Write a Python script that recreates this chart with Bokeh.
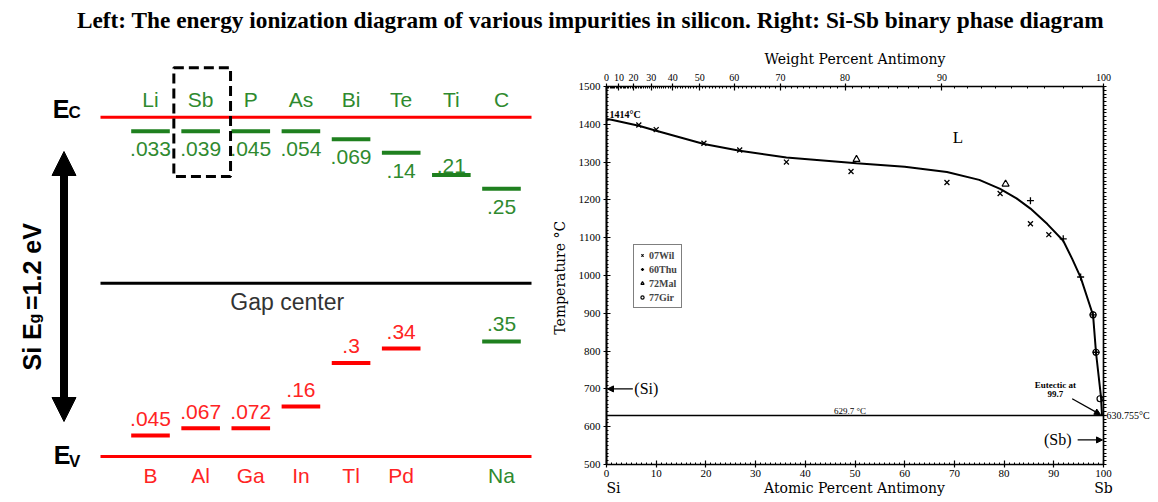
import math
from bokeh.plotting import figure
from bokeh.models import (ColumnDataSource, Range1d, LinearAxis, SingleIntervalTicker,
                          FixedTicker, Arrow, NormalHead, Label, Legend, LegendItem)
from bokeh.layouts import column, row
from bokeh.core.properties import value
from bokeh.embed import file_html
from bokeh.resources import INLINE

TITLE = ("Left: The energy ionization diagram of various impurities in silicon. "
         "Right: Si-Sb binary phase diagram")

# ---------------- data: left panel (energy levels in Si) ----------------
gap_ev = 1.2
gap_center_ev = 0.613          # drawn level of the "Gap center" line
gap_label = ["Si E", "g", "=1.2 eV"]
donor_names = ["Li", "Sb", "P", "As", "Bi", "Te", "Ti", "C"]
donor_energy_labels = [".033", ".039", ".045", ".054", ".069", ".14", ".21", ".25"]
donor_slot = [0, 1, 2, 3, 4, 5, 6, 7]
donor_depth_ev = [0.050, 0.050, 0.050, 0.050, 0.078, 0.126, 0.204, 0.253]   # drawn depth below Ec
donor_label_above = [False, False, False, False, False, False, True, False]
acceptor_names = ["B", "Al", "Ga", "In", "Tl", "Pd"]
acceptor_energy_labels = [".045", ".067", ".072", ".16", ".3", ".34"]
acceptor_slot = [0, 1, 2, 3, 4, 5]
acceptor_height_ev = [0.074, 0.100, 0.100, 0.177, 0.331, 0.382]  # drawn height above Ev
deep_names = ["Na"]
deep_energy_labels = [".35"]
deep_slot = [7]
deep_height_ev = [0.407]
highlight_name = "Sb"

# ---------------- data: right panel (Si-Sb phase diagram) ----------------
liquidus_at = [0, 1.0, 6.5, 10.0, 19.6, 26.8, 36.2, 50.3, 60.0, 68.5, 75.0, 79.2, 82.5,
               85.3, 88.7, 91.9, 93.7, 95.4, 97.9, 98.5, 99.5, 99.7]
liquidus_T = [1414, 1412, 1396, 1383, 1348, 1330, 1312, 1297, 1288, 1274, 1253, 1229, 1204,
              1177, 1136, 1092, 1044, 995, 895, 795, 678, 629.7]
wil_at = [6.5, 10.0, 19.6, 26.8, 36.2, 49.2, 68.5, 79.2, 85.3, 89.0]
wil_T = [1398, 1386, 1350, 1332, 1300, 1275, 1246, 1217, 1137, 1108]
thu_at = [85.3, 91.9, 95.4, 97.9, 98.5]
thu_T = [1198, 1097, 996, 896, 797]
mal_at = [50.3, 80.3]
mal_T = [1307, 1242]
gir_at = [97.9, 98.5, 99.3]
gir_T = [896, 797, 674]
series_labels = ["07Wil", "60Thu", "72Mal", "77Gir"]
si_melt_T = 1414
sb_melt_T = 630.755
eutectic_T = 629.7
eutectic_at = 99.7
si_solvus_T = 700
sb_solvus_T = 565
wt_tick_values = [0, 10, 20, 30, 40, 50, 60, 70, 80, 90, 100]
M_SI, M_SB = 28.086, 121.76

# ---------------- styles ----------------
RED = "#ff0000"
RED_TXT = "#ff2424"
GREEN = "#1f801f"
GREEN_TXT = "#2f8a2f"
SANS = value("Liberation Sans")
SERIF = "Liberation Serif"

# ================= title strip =================
tp = figure(width=1158, height=40, x_range=Range1d(0, 1158), y_range=Range1d(0, 40),
            x_axis_type=None, y_axis_type=None, toolbar_location=None,
            output_backend="svg", min_border=0)
tp.outline_line_color = None
tp.frame_align = False
tp.text(x=[590], y=[21], text=[TITLE], text_align="center", text_baseline="middle",
        text_font=value(SERIF), text_font_style="bold", text_font_size="23.3px",
        text_color="black")

# ================= left panel =================
L_W, L_H = 548, 462
TOP_WY = 40          # window y of the left panel top
EC_WY, EV_WY = 116.7, 456.0
px_per_ev = (EV_WY - EC_WY) / gap_ev
PX = 1.0 / px_per_ev
SLOT0, SLOT_W = 150.0, 50.14


def ey(wy):
    return (EV_WY - wy) / px_per_ev


def ex(wx):
    return (wx - SLOT0) / SLOT_W


lp = figure(width=L_W, height=L_H, x_range=Range1d(ex(0), ex(L_W)),
            y_range=Range1d(ey(TOP_WY + L_H), ey(TOP_WY)),
            x_axis_type=None, y_axis_type=None, toolbar_location=None,
            output_backend="svg", min_border=0)
lp.frame_align = False
lp.outline_line_color = None
lp.grid.visible = False

# band edges and gap center
lp.segment(x0=[ex(100)] * 2, x1=[ex(531)] * 2, y0=[gap_ev, 0], y1=[gap_ev, 0],
           line_color=RED, line_width=3)
lp.segment(x0=[ex(100)], x1=[ex(531)], y0=[gap_center_ev], y1=[gap_center_ev],
           line_color="black", line_width=3)
lp.text(x=[ex(286.7)], y=[gap_center_ev - 19.0 * PX], text=["Gap center"], text_align="center",
        text_baseline="middle", text_font=SANS, text_font_size="23px", text_color="#333333")

HALF = 0.385
# donors
d_lvl = [gap_ev - d for d in donor_depth_ev]
dsrc = ColumnDataSource(dict(
    x=donor_slot, x0=[s - HALF for s in donor_slot], x1=[s + HALF for s in donor_slot],
    y=d_lvl, name=donor_names, lab=donor_energy_labels,
    ny=[gap_ev + 17.4 * PX] * len(donor_names),
    ly=[v + (9.3 * PX if up else -18.0 * PX) for v, up in zip(d_lvl, donor_label_above)]))
lp.segment(x0="x0", x1="x1", y0="y", y1="y", source=dsrc, line_color=GREEN, line_width=4)
lp.text(x="x", y="ny", text="name", source=dsrc, text_align="center", text_baseline="middle",
        text_font=SANS, text_font_size="21px", text_color=GREEN_TXT)
lp.text(x="x", y="ly", text="lab", source=dsrc, text_align="center", text_baseline="middle",
        text_font=SANS, text_font_size="21px", text_color=GREEN_TXT)

# acceptors
asrc = ColumnDataSource(dict(
    x=acceptor_slot, x0=[s - HALF for s in acceptor_slot], x1=[s + HALF for s in acceptor_slot],
    y=acceptor_height_ev, name=acceptor_names, lab=acceptor_energy_labels,
    ny=[-19.0 * PX] * len(acceptor_names),
    ly=[v + 16.5 * PX for v in acceptor_height_ev]))
lp.segment(x0="x0", x1="x1", y0="y", y1="y", source=asrc, line_color=RED, line_width=4)
lp.text(x="x", y="ny", text="name", source=asrc, text_align="center", text_baseline="middle",
        text_font=SANS, text_font_size="21px", text_color=RED_TXT)
lp.text(x="x", y="ly", text="lab", source=asrc, text_align="center", text_baseline="middle",
        text_font=SANS, text_font_size="21px", text_color=RED_TXT)

# deep donor (Na)
nsrc = ColumnDataSource(dict(
    x=deep_slot, x0=[s - HALF for s in deep_slot], x1=[s + HALF for s in deep_slot],
    y=deep_height_ev, name=deep_names, lab=deep_energy_labels,
    ny=[-19.0 * PX] * len(deep_names),
    ly=[v + 17.0 * PX for v in deep_height_ev]))
lp.segment(x0="x0", x1="x1", y0="y", y1="y", source=nsrc, line_color=GREEN, line_width=4)
lp.text(x="x", y="ny", text="name", source=nsrc, text_align="center", text_baseline="middle",
        text_font=SANS, text_font_size="21px", text_color=GREEN_TXT)
lp.text(x="x", y="ly", text="lab", source=nsrc, text_align="center", text_baseline="middle",
        text_font=SANS, text_font_size="21px", text_color=GREEN_TXT)

# dashed highlight box around Sb
hs = donor_slot[donor_names.index(highlight_name)]
lp.quad(left=[hs - 26.8 / SLOT_W], right=[hs + 29.9 / SLOT_W],
        top=[gap_ev + 49.4 * PX], bottom=[gap_ev - 59.3 * PX],
        fill_color=None, line_color="black", line_width=3, line_dash="10 5")

# Ec / Ev labels
lp.text(x=[ex(60.5)], y=[gap_ev + 8.7 * PX], text=["E"], text_align="center",
        text_baseline="middle", text_font=SANS, text_font_style="bold",
        text_font_size="25px", text_color="black")
lp.text(x=[ex(74.2)], y=[gap_ev + 4.7 * PX], text=["C"], text_align="center",
        text_baseline="middle", text_font=SANS, text_font_style="bold",
        text_font_size="17px", text_color="black")
lp.text(x=[ex(61.7)], y=[1.8 * PX], text=["E"], text_align="center",
        text_baseline="middle", text_font=SANS, text_font_style="bold",
        text_font_size="25px", text_color="black")
lp.text(x=[ex(74.2)], y=[-4.8 * PX], text=["V"], text_align="center",
        text_baseline="middle", text_font=SANS, text_font_style="bold",
        text_font_size="17px", text_color="black")

# double arrow for the gap
lp.add_layout(Arrow(x_start=ex(63.5), y_start=ey(421), x_end=ex(63.5), y_end=ey(151),
                    line_width=8, line_color="black",
                    start=NormalHead(size=24, fill_color="black", line_color="black"),
                    end=NormalHead(size=24, fill_color="black", line_color="black")))
# rotated gap label
lp.text(x=[ex(31.7)], y=[ey(370)], text=[gap_label[0]], angle=math.pi / 2,
        text_align="left", text_baseline="alphabetic", text_font=SANS,
        text_font_style="bold", text_font_size="25px", text_color="black")
lp.text(x=[ex(34.2)], y=[ey(323)], text=[gap_label[1]], angle=math.pi / 2,
        text_align="left", text_baseline="alphabetic", text_font=SANS,
        text_font_style="bold", text_font_size="16px", text_color="black")
lp.text(x=[ex(31.7)], y=[ey(309.5)], text=[gap_label[2]], angle=math.pi / 2,
        text_align="left", text_baseline="alphabetic", text_font=SANS,
        text_font_style="bold", text_font_size="25px", text_color="black")

# ================= right panel =================
R_W, R_H = 610, 462
rp = figure(width=R_W, height=R_H, x_range=Range1d(0, 100), y_range=Range1d(500, 1500),
            toolbar_location=None, output_backend="svg",
            min_border_left=55, min_border_right=55, min_border_top=46, min_border_bottom=38)
rp.frame_align = False
rp.grid.visible = False
rp.outline_line_color = "black"
rp.outline_line_width = 1.2


def style_axis(ax):
    ax.axis_line_width = 1.5
    ax.axis_line_color = "black"
    ax.major_tick_line_width = 1.2
    ax.minor_tick_line_width = 1
    ax.major_tick_in = 4
    ax.major_tick_out = 3
    ax.minor_tick_in = 2
    ax.minor_tick_out = 0
    ax.major_label_standoff = 3
    ax.major_label_text_font = SERIF
    ax.major_label_text_font_size = "11px"
    ax.major_label_text_color = "black"
    ax.axis_label_text_font = "DejaVu Serif"
    ax.axis_label_text_font_size = "14px"
    ax.axis_label_text_font_style = "normal"
    ax.axis_label_text_color = "black"


bx = rp.xaxis[0]
bx.ticker = SingleIntervalTicker(interval=10, num_minor_ticks=10)
style_axis(bx)
bx.major_label_standoff = 2

# second row under the bottom axis: element names and axis title
bottom_ticks = [1.4, 49.9, 100.0]
bottom_texts = ["Si", "Atomic Percent Antimony", "Sb"]
bx2 = LinearAxis(ticker=FixedTicker(ticks=bottom_ticks, minor_ticks=[]),
                 major_label_overrides=dict(zip(bottom_ticks, bottom_texts)))
bx2.axis_line_color = None
bx2.major_tick_line_color = None
bx2.minor_tick_line_color = None
bx2.major_tick_in = 0
bx2.major_tick_out = 0
bx2.major_label_standoff = 0
bx2.major_label_text_font = "DejaVu Serif"
bx2.major_label_text_font_size = "14px"
bx2.major_label_text_color = "black"
rp.add_layout(bx2, "below")

ly = rp.yaxis[0]
ly.ticker = SingleIntervalTicker(interval=100, num_minor_ticks=10)
ly.axis_label = "Temperature  \u00b0C"
style_axis(ly)
ly.axis_line_width = 2
ly.axis_label_standoff = 8


def wt_to_at(w):
    if w <= 0:
        return 0.0
    if w >= 100:
        return 100.0
    a = w / M_SB
    b = (100 - w) / M_SI
    return round(100 * a / (a + b), 4)


top_major = [wt_to_at(w) for w in wt_tick_values]
top_minor = [wt_to_at(w) for w in range(0, 101) if w % 10]
tx = LinearAxis(ticker=FixedTicker(ticks=top_major, minor_ticks=top_minor),
                major_label_overrides={t: str(w) for t, w in zip(top_major, wt_tick_values)},
                axis_label="Weight Percent Antimony")
style_axis(tx)
tx.major_label_text_font_size = "10px"
tx.axis_label_standoff = 4
rp.add_layout(tx, "above")

# right axis: minor ticks only, plus the Sb melting point label
rx = LinearAxis(ticker=FixedTicker(ticks=[sb_melt_T],
                                   minor_ticks=[float(t) for t in range(500, 1501, 10)]),
                major_label_overrides={sb_melt_T: f"{sb_melt_T}\u00b0C"})
style_axis(rx)
rx.major_tick_in = 0
rx.major_tick_out = 3
rx.minor_tick_out = 3
rx.minor_tick_in = 0
rx.major_label_standoff = 0
rx.major_label_text_font_size = "10px"
rp.add_layout(rx, "right")

# liquidus and eutectic line
rp.line(liquidus_at, liquidus_T, line_color="black", line_width=2)
rp.segment(x0=[0], x1=[100], y0=[eutectic_T], y1=[eutectic_T], line_color="black",
           line_width=1.5)

# data markers
r_wil = rp.scatter(wil_at, wil_T, marker="x", size=7, line_color="black", line_width=1.3)
r_thu = rp.scatter(thu_at, thu_T, marker="cross", size=7, line_color="black", line_width=1.3)
r_mal = rp.scatter(mal_at, mal_T, marker="triangle", size=7, fill_color=None,
                   line_color="black", line_width=1.2)
r_gir = rp.scatter(gir_at, gir_T, marker="circle", size=6, fill_color=None,
                   line_color="black", line_width=1.2)

legend = Legend(items=[LegendItem(label=series_labels[0], renderers=[r_wil]),
                       LegendItem(label=series_labels[1], renderers=[r_thu]),
                       LegendItem(label=series_labels[2], renderers=[r_mal]),
                       LegendItem(label=series_labels[3], renderers=[r_gir])],
                location=(27, 156), border_line_color="black", border_line_width=1.5,
                label_text_font=SERIF, label_text_font_style="bold",
                label_text_font_size="10px", glyph_width=8, glyph_height=12,
                label_height=12, label_standoff=3, spacing=2, padding=4, margin=0,
                background_fill_alpha=1)
rp.add_layout(legend)


def lab(x, y, text, size="9px", bold=False, align="left", font=SERIF):
    rp.add_layout(Label(x=x, y=y, text=text, text_font=font, text_font_size=size,
                        text_font_style="bold" if bold else "normal", text_align=align,
                        text_baseline="middle", text_color="black"))


lab(0.6, si_melt_T + 11, f"{si_melt_T}\u00b0C", size="10px", bold=True)
lab(70.7, 1364, "L", size="17px", align="center")
lab(49.0, eutectic_T + 12, f"{eutectic_T} \u00b0C", size="9px", align="center")
lab(90.3, 711, "Eutectic at", size="9px", bold=True, align="center")
lab(90.3, 687, f"{eutectic_at}", size="9px", bold=True, align="center")
lab(5.6, si_solvus_T, "(Si)", size="16px")
lab(90.8, sb_solvus_T, "(Sb)", size="16px", align="center")

rp.add_layout(Arrow(x_start=93.7, y_start=674, x_end=99.4, y_end=632, line_width=1.3,
                    end=NormalHead(size=6, fill_color="black", line_color="black")))
rp.add_layout(Arrow(x_start=5.3, y_start=si_solvus_T, x_end=0.2, y_end=si_solvus_T,
                    line_width=1.3,
                    end=NormalHead(size=6, fill_color="black", line_color="black")))
rp.add_layout(Arrow(x_start=94.8, y_start=sb_solvus_T, x_end=99.8, y_end=sb_solvus_T,
                    line_width=1.3,
                    end=NormalHead(size=6, fill_color="black", line_color="black")))

layout = column(tp, row(lp, rp, spacing=0), spacing=0)
open("out.html", "w").write(file_html(layout, INLINE))
